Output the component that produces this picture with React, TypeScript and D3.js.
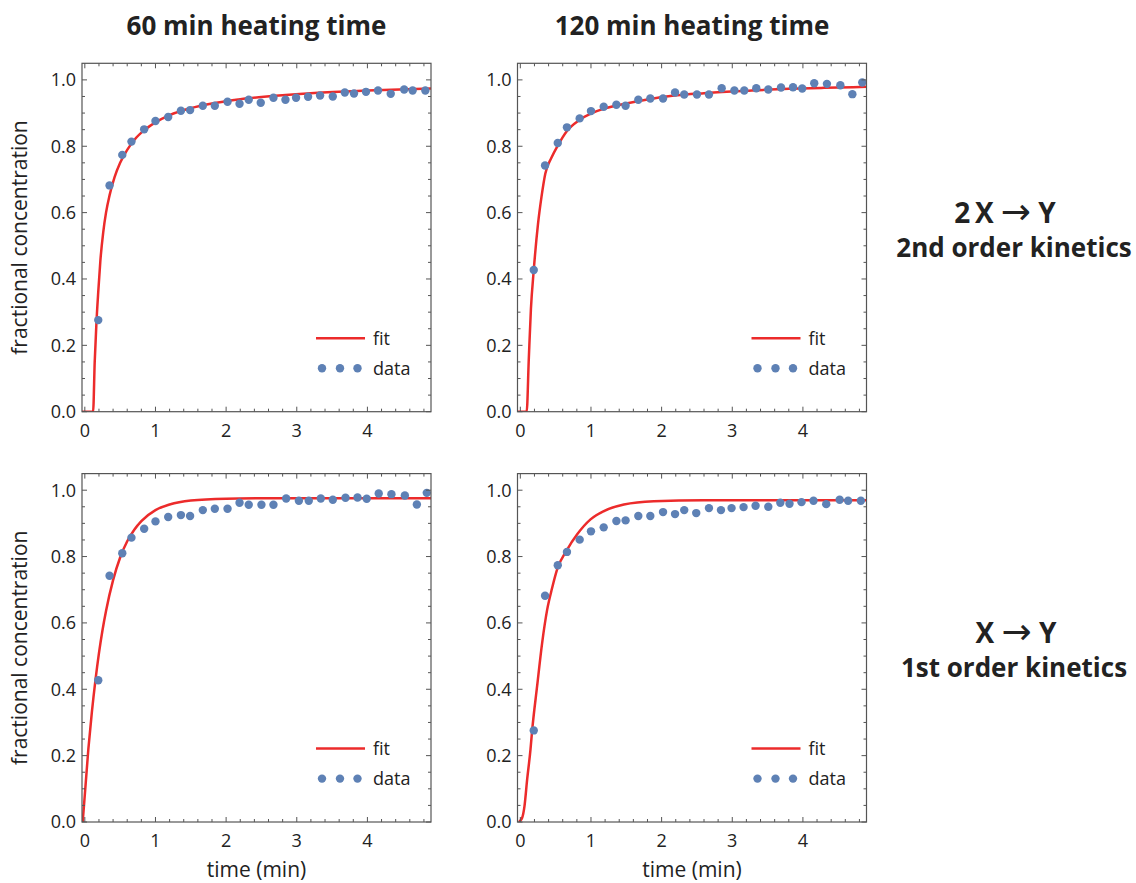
import React from "react";
import * as d3 from "d3";

// ---------- data ----------
const times60 = [0.19, 0.35, 0.53, 0.66, 0.84, 1.0, 1.18, 1.36, 1.49, 1.67, 1.84, 2.02, 2.19, 2.32, 2.49, 2.67, 2.84, 2.99, 3.16, 3.33, 3.51, 3.68, 3.81, 3.98, 4.15, 4.33, 4.52, 4.64, 4.82];
const conc60 = [0.276, 0.682, 0.774, 0.814, 0.851, 0.876, 0.888, 0.907, 0.909, 0.922, 0.922, 0.934, 0.928, 0.94, 0.931, 0.946, 0.94, 0.946, 0.949, 0.953, 0.95, 0.962, 0.959, 0.964, 0.968, 0.958, 0.971, 0.968, 0.968];

const times120 = [0.19, 0.35, 0.53, 0.66, 0.84, 1.0, 1.18, 1.36, 1.49, 1.67, 1.84, 2.02, 2.19, 2.32, 2.5, 2.67, 2.85, 3.03, 3.17, 3.34, 3.51, 3.69, 3.86, 3.99, 4.16, 4.34, 4.53, 4.7, 4.84];
const conc120 = [0.427, 0.742, 0.81, 0.857, 0.884, 0.906, 0.919, 0.925, 0.922, 0.94, 0.944, 0.944, 0.962, 0.956, 0.956, 0.956, 0.975, 0.968, 0.968, 0.975, 0.971, 0.977, 0.978, 0.974, 0.99, 0.988, 0.984, 0.957, 0.992];

// fitted curves
const fit2nd60T = [-0.04, 0.117, 0.14, 0.165, 0.19, 0.22, 0.26, 0.3, 0.35, 0.42, 0.5, 0.6, 0.7, 0.85, 1.0, 1.2, 1.5, 1.8, 2.2, 2.7, 3.3, 4.0, 4.9];
const fit2nd60V = [0, 0, 0.151, 0.271, 0.361, 0.455, 0.54, 0.6, 0.652, 0.706, 0.75, 0.789, 0.819, 0.85, 0.872, 0.894, 0.915, 0.929, 0.942, 0.952, 0.961, 0.968, 0.974];

const fit2nd120T = [-0.04, 0.09, 0.12, 0.15, 0.189, 0.25, 0.3, 0.354, 0.44, 0.533, 0.66, 0.835, 1.004, 1.2, 1.5, 1.8, 2.15, 2.6, 3.2, 3.8, 4.3, 4.9];
const fit2nd120V = [0, 0, 0.16, 0.31, 0.424, 0.565, 0.648, 0.718, 0.765, 0.803, 0.846, 0.879, 0.899, 0.914, 0.929, 0.941, 0.952, 0.96, 0.967, 0.973, 0.976, 0.979];

const fit1st120T = [-0.03, 0.05, 0.1, 0.15, 0.2, 0.25, 0.3, 0.4, 0.5, 0.6, 0.7, 0.8, 1.0, 1.2, 1.5, 2.0, 2.5, 3.0, 4.9];
const fit1st120V = [0, 0.22, 0.332, 0.427, 0.509, 0.578, 0.636, 0.729, 0.797, 0.846, 0.881, 0.907, 0.94, 0.957, 0.969, 0.9745, 0.9757, 0.976, 0.976];

const fit1st60T = [-0.02, 0.026, 0.059, 0.097, 0.144, 0.167, 0.238, 0.309, 0.38, 0.45, 0.521, 0.663, 0.805, 0.994, 1.183, 1.466, 1.89, 2.6, 3.5, 4.9];
const fit1st60V = [0, 0.013, 0.048, 0.129, 0.219, 0.275, 0.41, 0.54, 0.64, 0.705, 0.761, 0.821, 0.867, 0.912, 0.937, 0.957, 0.967, 0.97, 0.97, 0.97];

const columnTitles = ["60 min heating time", "120 min heating time"];
const rowFormulaLeft = ["2\u2009X", "X"];
const rowFormulaRight = "Y";
const arrow = "\u2192";
const rowKinetics = ["2nd order kinetics", "1st order kinetics"];
const xMajorTicks = [0, 1, 2, 3, 4];
const yMajorTicks = [0, 0.2, 0.4, 0.6, 0.8, 1.0];
const legendLabels = ["fit", "data"];
const yAxisTitle = "fractional concentration";
const xAxisTitle = "time (min)";

// ---------- layout ----------
const W = 1136;
const H = 883;
const colX = [82, 517.5];
const rowY = [63.3, 473.6];
const PW = 349;
const PH = 348.4;
const xDomain = [-0.04, 4.9];
const yDomain = [0, 1.05];
const FONT = "'Open Sans', 'Noto Sans', sans-serif";
const RED = "#ec2b2b";
const BLUE = "#5e81b5";
const FRAME = "#555";
const TEXT = "#222";

const zip = (t: number[], v: number[]) => t.map((d, i) => [d, v[i]] as [number, number]);

const panels = [
  { col: 0, row: 0, pts: zip(times60, conc60), fit: zip(fit2nd60T, fit2nd60V) },
  { col: 1, row: 0, pts: zip(times120, conc120), fit: zip(fit2nd120T, fit2nd120V) },
  { col: 0, row: 1, pts: zip(times120, conc120), fit: zip(fit1st120T, fit1st120V) },
  { col: 1, row: 1, pts: zip(times60, conc60), fit: zip(fit1st60T, fit1st60V) },
];

function Panel({ col, row, pts, fit, idx }: any) {
  const x0 = colX[col];
  const y0 = rowY[row];
  const x = d3.scaleLinear().domain(xDomain).range([x0, x0 + PW]);
  const y = d3.scaleLinear().domain(yDomain).range([y0 + PH, y0]);
  const line = d3
    .line<[number, number]>()
    .x((d) => x(d[0]))
    .y((d) => y(d[1]))
    .curve(d3.curveMonotoneX);
  const xMinor = d3.range(0, 4.9, 0.2).filter((v) => Math.abs(v - Math.round(v)) > 1e-6);
  const yMinor = d3.range(0, 1.001, 0.05).filter((v) => Math.abs(v * 5 - Math.round(v * 5)) > 1e-6);
  const bottom = y0 + PH;
  const right = x0 + PW;
  const MAJ = 5;
  const MIN = 3;
  const clipId = `clip${idx}`;
  const lx = x0 + 234;
  return (
    <g>
      <defs>
        <clipPath id={clipId}>
          <rect x={x0} y={y0} width={PW} height={PH} />
        </clipPath>
      </defs>
      <g clipPath={`url(#${clipId})`}>
        <path d={line(fit) || ""} fill="none" stroke={RED} strokeWidth={2.5} />
        {pts.map((d: [number, number], i: number) => (
          <circle key={i} cx={x(d[0])} cy={y(d[1])} r={4.2} fill={BLUE} />
        ))}
      </g>
      {/* ticks */}
      <g stroke={FRAME} strokeWidth={1}>
        {xMajorTicks.map((t) => (
          <g key={"xM" + t}>
            <line x1={x(t)} x2={x(t)} y1={bottom} y2={bottom - MAJ} />
            <line x1={x(t)} x2={x(t)} y1={y0} y2={y0 + MAJ} />
          </g>
        ))}
        {xMinor.map((t) => (
          <g key={"xm" + t}>
            <line x1={x(t)} x2={x(t)} y1={bottom} y2={bottom - MIN} />
            <line x1={x(t)} x2={x(t)} y1={y0} y2={y0 + MIN} />
          </g>
        ))}
        {yMajorTicks.map((t) => (
          <g key={"yM" + t}>
            <line x1={x0} x2={x0 + MAJ} y1={y(t)} y2={y(t)} />
            <line x1={right} x2={right - MAJ} y1={y(t)} y2={y(t)} />
          </g>
        ))}
        {yMinor.map((t) => (
          <g key={"ym" + t}>
            <line x1={x0} x2={x0 + MIN} y1={y(t)} y2={y(t)} />
            <line x1={right} x2={right - MIN} y1={y(t)} y2={y(t)} />
          </g>
        ))}
      </g>
      <rect x={x0} y={y0} width={PW} height={PH} fill="none" stroke={FRAME} strokeWidth={1.2} />
      {/* tick labels */}
      <g fontFamily={FONT} fontSize={18} fill={TEXT}>
        {xMajorTicks.map((t) => (
          <text key={"xl" + t} x={x(t)} y={bottom + 25} textAnchor="middle">
            {String(t)}
          </text>
        ))}
        {yMajorTicks.map((t) => (
          <text key={"yl" + t} x={x0 - 6} y={y(t)} dy="0.36em" textAnchor="end">
            {d3.format(".1f")(t)}
          </text>
        ))}
      </g>
      {/* legend */}
      <line x1={lx} x2={lx + 49} y1={y0 + 275} y2={y0 + 275} stroke={RED} strokeWidth={2.5} />
      {[6, 24, 41.5].map((dx, i) => (
        <circle key={i} cx={lx + dx} cy={y0 + 305} r={4.2} fill={BLUE} />
      ))}
      <g fontFamily={FONT} fontSize={18} fill={TEXT}>
        <text x={lx + 57} y={y0 + 275} dy="0.35em">{legendLabels[0]}</text>
        <text x={lx + 57} y={y0 + 305} dy="0.35em">{legendLabels[1]}</text>
      </g>
    </g>
  );
}

function Formula({ x, y, left }: { x: number; y: number; left: string }) {
  return (
    <text x={x} y={y} textAnchor="middle" fontFamily={FONT} fontWeight="bold" fontSize={28} fill={TEXT}>
      <tspan>{left} </tspan>
      <tspan fontFamily="'DejaVu Sans', sans-serif" fontWeight="normal" fontSize={36} dy={1}>
        {arrow}
      </tspan>
      <tspan dy={-1}> {rowFormulaRight}</tspan>
    </text>
  );
}

export default function App() {
  return (
    <svg
      width={W}
      height={H}
      viewBox={`0 0 ${W} ${H}`}
      style={{ position: "absolute", left: 0, top: 0, background: "#fff" }}
    >
      <rect x={0} y={0} width={W} height={H} fill="#fff" />
      {panels.map((p, i) => (
        <Panel key={i} idx={i} {...p} />
      ))}
      {/* column titles */}
      {columnTitles.map((t, i) => (
        <text key={t} x={colX[i] + PW / 2} y={35} textAnchor="middle" fontFamily={FONT} fontWeight="bold" fontSize={26} fill={TEXT}>
          {t}
        </text>
      ))}
      {/* y axis titles */}
      {rowY.map((ry, i) => (
        <text
          key={"yt" + i}
          transform={`translate(27,${ry + PH / 2}) rotate(-90)`}
          textAnchor="middle"
          fontFamily={FONT}
          fontSize={21}
          fill={TEXT}
        >
          {yAxisTitle}
        </text>
      ))}
      {/* x axis titles */}
      {colX.map((cx, i) => (
        <text key={"xt" + i} x={cx + PW / 2} y={877} textAnchor="middle" fontFamily={FONT} fontSize={21} fill={TEXT}>
          {xAxisTitle}
        </text>
      ))}
      {/* row labels */}
      <Formula x={1005} y={223} left={rowFormulaLeft[0]} />
      <text x={1014} y={257} textAnchor="middle" fontFamily={FONT} fontWeight="bold" fontSize={26} fill={TEXT}>
        {rowKinetics[0]}
      </text>
      <Formula x={1016} y={643} left={rowFormulaLeft[1]} />
      <text x={1014} y={677} textAnchor="middle" fontFamily={FONT} fontWeight="bold" fontSize={26} fill={TEXT}>
        {rowKinetics[1]}
      </text>
    </svg>
  );
}
